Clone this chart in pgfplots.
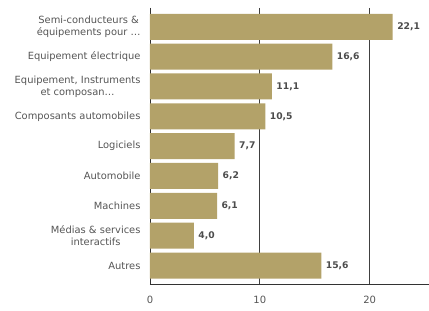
\documentclass[border=0pt]{standalone}
\usepackage{pgfplots}
\pgfplotsset{compat=1.18}
\usepackage{fontspec}
\setmainfont{DejaVu Sans}
\definecolor{barc}{HTML}{B3A269}
\definecolor{txt}{HTML}{555555}
\begin{document}
\begin{tikzpicture}
\begin{axis}[
  scale only axis, width=279pt, height=276pt,
  xbar, bar width=26pt,
  xmin=0, xmax=25.4,
  ymin=-0.63, ymax=8.62, y dir=reverse,
  ytick={0,1,2,3,4,5,6,7,8},
  yticklabels={{Semi-conducteurs \&\\équipements pour \ldots},{Equipement électrique},{Equipement, Instruments\\et composan\ldots},{Composants automobiles},{Logiciels},{Automobile},{Machines},{Médias \& services\\interactifs},{Autres}},
  yticklabel style={align=center, font=\fontsize{9.9}{12}\selectfont, text=txt, xshift=-6pt},
  xtick={0,10,20},
  xticklabel style={font=\fontsize{10}{12}\selectfont, text=txt, yshift=-9pt},
  /pgf/number format/assume math mode=true,
  axis x line*=bottom, axis y line*=left,
  major tick length=0pt,
  axis line style={draw=black!80, line width=0.8pt},
  xmajorgrids, grid style={draw=black!75, line width=0.7pt},
  nodes near coords,
  nodes near coords style={font=\bfseries\fontsize{9.2}{10}\selectfont, text=black!70, xshift=1pt, /pgf/number format/fixed, /pgf/number format/fixed zerofill, /pgf/number format/precision=1, /pgf/number format/use comma, /pgf/number format/assume math mode=true},
  clip=false,
]
\addplot[fill=barc, draw=none] coordinates {
(22.1,0) (16.6,1) (11.1,2) (10.5,3) (7.7,4) (6.2,5) (6.1,6) (4.0,7) (15.6,8)};
\coordinate (ll) at (rel axis cs:0,0);
\coordinate (ur) at (rel axis cs:1,1);
\end{axis}
\pgfresetboundingbox
\path[use as bounding box] ([xshift=-150pt,yshift=-27pt]ll) rectangle ([yshift=8pt]ur);
\end{tikzpicture}
\end{document}
